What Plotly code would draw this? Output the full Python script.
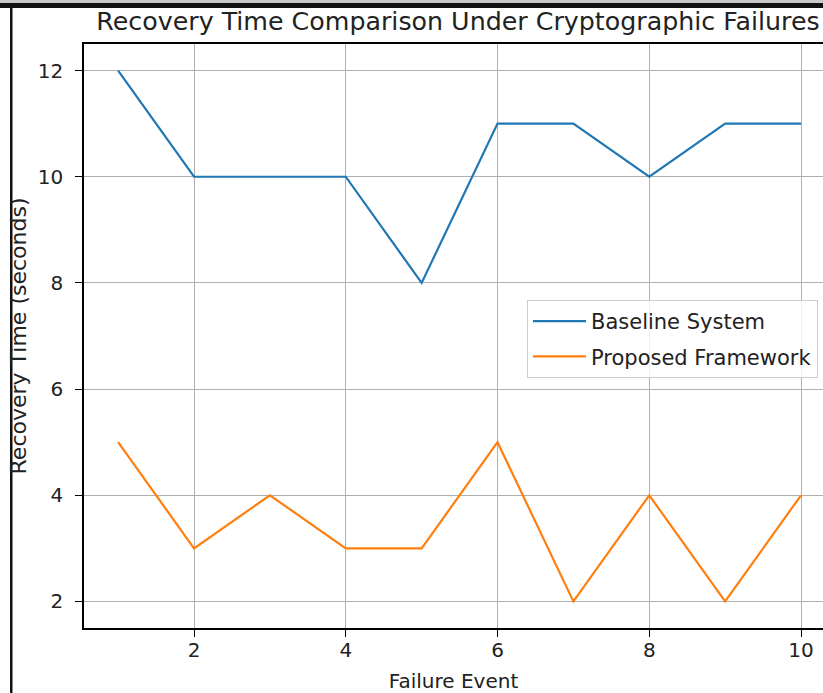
import plotly.graph_objects as go

failure_events = [1, 2, 3, 4, 5, 6, 7, 8, 9, 10]
baseline_system = [12, 10, 10, 10, 8, 11, 11, 10, 11, 11]
proposed_framework = [5, 3, 4, 3, 3, 5, 2, 4, 2, 4]
x_ticks = [2, 4, 6, 8, 10]
y_ticks = [2, 4, 6, 8, 10, 12]

W, H = 823, 693
L, R, T, B = 84, 0, 44, 65
pw, ph = W - L - R, H - T - B

def px_x(p):
    return (p - L) / pw

def px_y(p):
    return (H - B - p) / ph

FONT = "DejaVu Sans"

fig = go.Figure()
fig.add_trace(go.Scatter(x=failure_events, y=baseline_system, mode="lines",
                         name="Baseline System", legendgroup="a",
                         line=dict(color="#1f77b4", width=2.2)))
fig.add_trace(go.Scatter(x=failure_events, y=proposed_framework, mode="lines",
                         name="Proposed Framework", legendgroup="b",
                         line=dict(color="#ff7f0e", width=2.2)))

axis_common = dict(
    showgrid=True, gridcolor="#b0b0b0", gridwidth=1,
    showline=True, linecolor="black", linewidth=1.6,
    ticks="outside", ticklen=7, tickwidth=1.4, tickcolor="black",
    tickfont=dict(family=FONT, size=20, color="#222"),
    zeroline=False,
)

fig.update_xaxes(range=[0.55, 0.55 + pw / 75.875], tickvals=x_ticks,
                 mirror=True, ticklabelstandoff=-4,
                 title=dict(text="Failure Event", font=dict(family=FONT, size=20, color="#222"), standoff=14),
                 **axis_common)
fig.update_yaxes(range=[1.5, 12.5], tickvals=y_ticks, ticklabelstandoff=8,
                 title=dict(text="Recovery Time (seconds)", font=dict(family=FONT, size=22, color="#222"), standoff=5),
                 **axis_common)

shapes = [
    dict(type="rect", xref="paper", yref="paper", x0=px_x(0), x1=px_x(W), y0=px_y(3), y1=px_y(0),
         fillcolor="#c8c8c8", line=dict(width=0), layer="above"),
    dict(type="rect", xref="paper", yref="paper", x0=px_x(0), x1=px_x(W), y0=px_y(8), y1=px_y(3),
         fillcolor="#111111", line=dict(width=0), layer="above"),
    dict(type="rect", xref="paper", yref="paper", x0=px_x(10), x1=px_x(12.5), y0=px_y(H), y1=px_y(8),
         fillcolor="#111111", line=dict(width=0), layer="above"),
]

fig.update_layout(
    width=W, height=H,
    margin=dict(l=L, r=R, t=T, b=B, pad=0),
    paper_bgcolor="white", plot_bgcolor="white",
    title=dict(text="Recovery Time Comparison Under Cryptographic Failures",
               font=dict(family=FONT, size=25.3, color="#222"),
               x=px_x(458), xref="paper", xanchor="center",
               y=1 - 21 / H, yref="container", yanchor="middle"),
    legend=dict(x=px_x(527), y=px_y(300), xanchor="left", yanchor="top",
                bgcolor="rgba(255,255,255,0.8)", bordercolor="#cccccc", borderwidth=1,
                font=dict(family=FONT, size=21, color="#222"), tracegroupgap=5,
                itemwidth=53),
    shapes=shapes,
    showlegend=True,
)

fig.write_html("out.html", config={"displayModeBar": False},
               post_script="document.body.style.margin='0';document.body.style.overflow='hidden';")
